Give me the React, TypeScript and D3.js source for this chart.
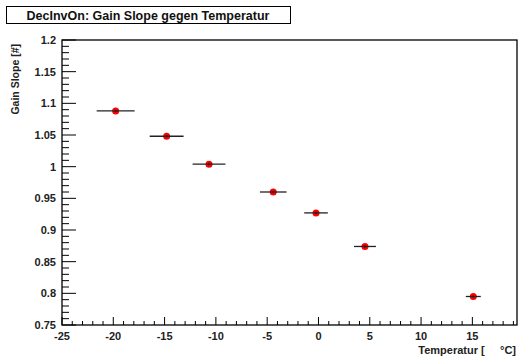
import React from "react";
import * as d3 from "d3";

const temps = [-19.77, -14.8, -10.67, -4.41, -0.24, 4.53, 15.09];
const tempErr = [1.85, 1.65, 1.6, 1.3, 1.15, 1.07, 0.73];
const slopes = [1.088, 1.048, 1.004, 0.96, 0.927, 0.874, 0.795];
const slopeErr = [0.002, 0.002, 0.002, 0.002, 0.002, 0.002, 0.002];
const yTicks = [0.75, 0.8, 0.85, 0.9, 0.95, 1, 1.05, 1.1, 1.15, 1.2];
const yTickLabels = ["0.75", "0.8", "0.85", "0.9", "0.95", "1", "1.05", "1.1", "1.15", "1.2"];
const xTicks = [-25, -20, -15, -10, -5, 0, 5, 10, 15];

const W = 518, H = 357;
const L = 62, R = 517, T = 40, B = 325;

export default function App() {
  const x = d3.scaleLinear().domain([-25, 19.35]).range([L, R]);
  const y = d3.scaleLinear().domain([0.75, 1.2]).range([B, T]);
  const font = "'Liberation Sans', Arial, sans-serif";
  const xMinor = d3.range(-25, 19.4, 1);
  const yMinor = d3.range(0, 46).map((i) => 0.75 + i * 0.01);
  return (
    <svg width={W} height={H} style={{ position: "fixed", left: 0, top: 0, background: "#fff" }}>
      <rect x={0} y={0} width={W} height={H} fill="#fff" />
      {/* title box */}
      <rect x={6.5} y={6.5} width={284} height={17} fill="#fff" stroke="#000" strokeWidth={1} />
      <text x={148} y={20} textAnchor="middle" fontFamily={font} fontWeight="bold" fontSize={12.5} fill="#111">
        DecInvOn: Gain Slope gegen Temperatur
      </text>
      {/* frame */}
      <rect x={L} y={T} width={R - L} height={B - T} fill="none" stroke="#000" strokeWidth={1.3} />
      {/* y ticks */}
      {yMinor.map((v, i) => {
        const major = i % 5 === 0;
        return (
          <line key={"ym" + i} x1={L} x2={L + (major ? 14 : 7)} y1={y(v)} y2={y(v)} stroke="#000" strokeWidth={1} />
        );
      })}
      {yTicks.map((v, i) => (
        <text key={"yl" + i} x={56} y={y(v) + 4} textAnchor="end" fontFamily={font} fontWeight="bold" fontSize={11} fill="#222">
          {yTickLabels[i]}
        </text>
      ))}
      {/* x ticks */}
      {xMinor.map((v, i) => {
        const major = i % 5 === 0;
        return (
          <line key={"xm" + i} x1={x(v)} x2={x(v)} y1={B} y2={B - (major ? 8 : 4)} stroke="#000" strokeWidth={1} />
        );
      })}
      {xTicks.map((v, i) => (
        <text key={"xl" + i} x={x(v)} y={340} textAnchor="middle" fontFamily={font} fontWeight="bold" fontSize={11} fill="#222">
          {String(v)}
        </text>
      ))}
      {/* axis titles */}
      <text x={516} y={354} textAnchor="end" fontFamily={font} fontWeight="bold" fontSize={11} fill="#222" style={{ whiteSpace: "pre" }}>
        {"Temperatur [     °C]"}
      </text>
      <text transform="translate(19,44) rotate(-90)" textAnchor="end" fontFamily={font} fontWeight="bold" fontSize={10.5} fill="#222">
        Gain Slope [#]
      </text>
      {/* data */}
      {temps.map((t, i) => (
        <g key={"p" + i}>
          <circle cx={x(t)} cy={y(slopes[i])} r={3.5} fill="#f00" />
          <line x1={x(t - tempErr[i])} x2={x(t + tempErr[i])} y1={y(slopes[i])} y2={y(slopes[i])} stroke="#222" strokeWidth={1.3} />
          <line x1={x(t)} x2={x(t)} y1={y(slopes[i] - slopeErr[i])} y2={y(slopes[i] + slopeErr[i])} stroke="#222" strokeWidth={1.3} />
        </g>
      ))}
    </svg>
  );
}
